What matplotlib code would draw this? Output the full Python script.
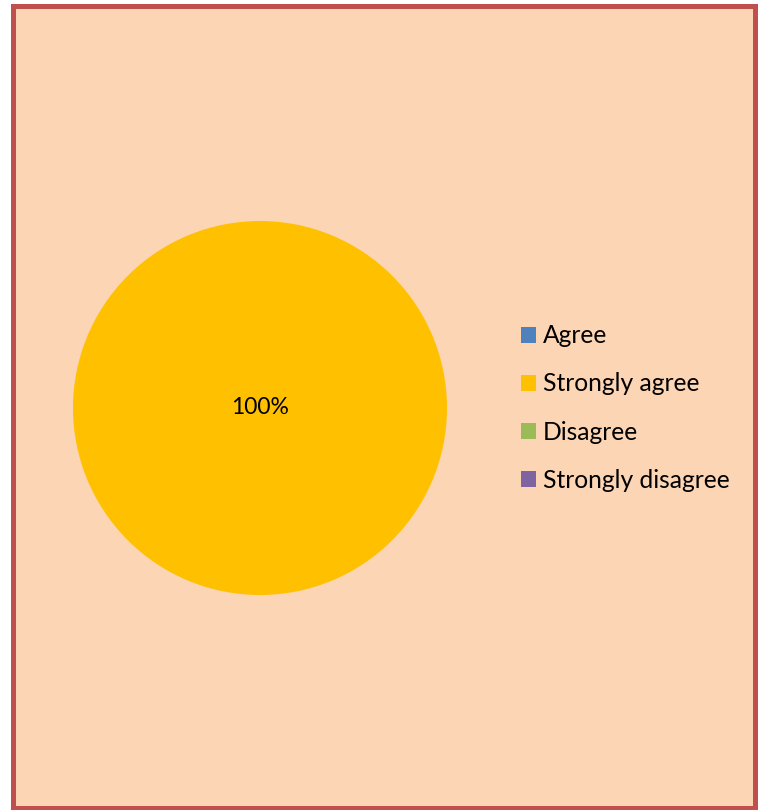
import matplotlib
matplotlib.use("Agg")
import matplotlib.pyplot as plt
from matplotlib.patches import Rectangle, Patch

categories = ["Agree", "Strongly agree", "Disagree", "Strongly disagree"]
values = [0, 100, 0, 0]
colors = ["#4F81BD", "#FFC000", "#9BBB59", "#8064A2"]

W, H = 758, 810
fig = plt.figure(figsize=(W/100, H/100), dpi=100)
fig.patch.set_facecolor("white")

def fx(px): return px / W
def fy(py): return 1 - py / H

# background panel with border
bg = Rectangle((fx(12.5), fy(807.5)), fx(755) - fx(12.5), fy(6) - fy(807.5),
               transform=fig.transFigure, facecolor="#FCD5B4", edgecolor="#C0504D",
               linewidth=3.6, zorder=-10)
fig.patches.append(bg)

cx, cy, r = 260, 408, 187
ax = fig.add_axes([fx(cx - r), fy(cy + r), (2*r)/W, (2*r)/H], zorder=5)
ax.set_facecolor("none")

def pct(p):
    return f"{p:.0f}%" if p > 0 else ""

wedges, texts, autotexts = ax.pie(values, colors=colors, startangle=90, counterclock=False,
                                  autopct=pct, pctdistance=0.0, radius=1,
                                  textprops=dict(family="Lato", fontsize=16.5, color="black"))
ax.set_xlim(-1, 1)
ax.set_ylim(-1, 1)
ax.set_aspect("auto")
ax.axis("off")

handles = [Patch(facecolor=c, edgecolor="none") for c in colors]
leg = fig.legend(handles, categories, loc="center left", bbox_to_anchor=(fx(521), fy(408)),
                 frameon=False, prop=dict(family="Lato", size=17.7),
                 handlelength=0.6, handleheight=0.6, handletextpad=0.3, labelspacing=1.02,
                 borderaxespad=0, borderpad=0)
leg.set_zorder(6)

fig.savefig("out.png", dpi=100, facecolor="white")
